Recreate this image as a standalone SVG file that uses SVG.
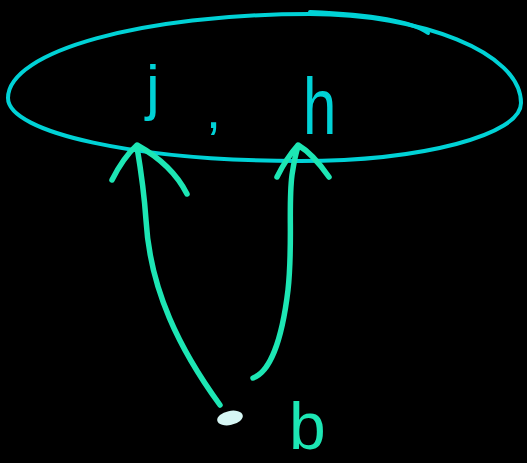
<svg xmlns="http://www.w3.org/2000/svg" width="527" height="463" viewBox="0 0 527 463">
<style>
.set{fill:none;stroke:#00d2d6;stroke-width:4;stroke-linecap:round}
.arr{fill:none;stroke:#1de6b4;stroke-width:5.5;stroke-linecap:round;stroke-linejoin:round}
.lbl{font-family:"Liberation Sans",Arial,sans-serif;fill:#00d2d6}
.lblb{font-family:"Liberation Sans",Arial,sans-serif;fill:#1de6b4}
</style>
<rect width="527" height="463" fill="#000"/>
<g id="set">
<path class="set" d="M8,98 C8,51 143,14 310,14 C420,14 521,52 521,103 C521,135 422,161 300,161 C138,161 8,133 8,98 Z"/>
<path class="set" d="M310,12 C360,14 410,20 428,33"/>
<text class="lbl" x="146" y="108" font-size="62">j</text>
<text class="lbl" x="206" y="128" font-size="54">,</text>
<text class="lbl" x="303" y="134" font-size="80" transform="translate(303 0) scale(0.75 1) translate(-303 0)">h</text>
</g>
<g id="connectors">
<path class="arr" d="M220,405 C180,350 150,290 146,220 C144,190 140,165 137,147"/>
<path class="arr" d="M112,180 C118,168 126,155 137,145 C155,155 175,170 187,194"/>
<path class="arr" d="M253,378 C270,372 282,340 288,290 C293,245 288,205 292,175 C294,162 296,152 298,147"/>
<path class="arr" d="M277,177 C283,165 290,154 298,145 C310,152 320,164 329,177"/>
</g>
<g id="b">
<ellipse cx="230" cy="418" rx="13" ry="7" transform="rotate(-12 230 418)" fill="#d6f6f4"/>
<text class="lblb" x="289" y="449" font-size="66">b</text>
</g>
</svg>
